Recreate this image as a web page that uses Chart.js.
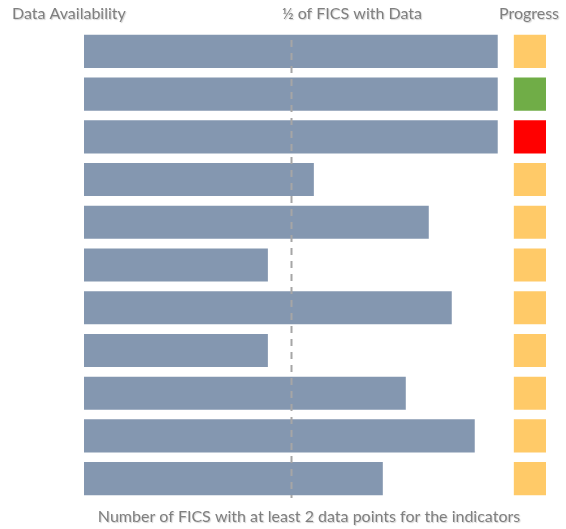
<!DOCTYPE html>
<html>
<head>
<meta charset="utf-8">
<script src="https://cdn.jsdelivr.net/npm/chart.js@4"></script>
<style>
  html, body { margin: 0; padding: 0; background: #fff; }
  #wrap { width: 566px; height: 529px; position: relative; }
</style>
</head>
<body>
<div id="wrap"><canvas id="chart"></canvas></div>
<script>
// Indicators (unlabelled in the source picture), top to bottom
const indicators = ["1", "2", "3", "4", "5", "6", "7", "8", "9", "10", "11"];
// Number of FICS with at least 2 data points
const ficsWithData = [18, 18, 18, 10, 15, 8, 16, 8, 14, 17, 13];
const totalFics = 18;
const halfFics = totalFics / 2;
// Progress rating per indicator
const progress = ["amber", "green", "red", "amber", "amber", "amber", "amber", "amber", "amber", "amber", "amber"];
// Progress marker span on the value axis (sits right of the bars)
const progressSpan = [18.7, 20.1];

const titleLeft = "Data Availability";
const titleMid = "½ of FICS with Data";
const titleRight = "Progress";
const axisLabel = "Number of FICS with at least 2 data points for the indicators";

const PROGRESS_COLORS = { amber: "#ffca68", green: "#70ad47", red: "#ff0000" };
const TEXT = "#7f7f7f";
const FONT = "16px Lato, 'Liberation Sans', sans-serif";

const overlay = {
  id: "overlay",
  afterDatasetsDraw(chart) {
    const { ctx, chartArea, scales } = chart;
    const x = Math.round(scales.x.getPixelForValue(halfFics)) + 0.5;

    ctx.save();
    ctx.strokeStyle = "#a6a6a6";
    ctx.lineWidth = 2;
    ctx.setLineDash([7, 6]);
    ctx.beginPath();
    ctx.moveTo(x, chartArea.top + 10);
    ctx.lineTo(x, chartArea.bottom - 2);
    ctx.stroke();
    ctx.restore();

    ctx.save();
    ctx.font = FONT;
    ctx.fillStyle = TEXT;
    ctx.textBaseline = "middle";
    ctx.shadowColor = "rgba(0,0,0,0.18)";
    ctx.shadowOffsetX = 1;
    ctx.shadowOffsetY = 1;
    ctx.shadowBlur = 1;

    ctx.textAlign = "left";
    ctx.fillText(titleLeft, 12, 14);
    ctx.textAlign = "center";
    ctx.fillText(titleMid, 352, 14);
    ctx.fillText(titleRight, 529, 14);
    ctx.fillText(axisLabel, 309, 517);
    ctx.restore();
  },
};

new Chart(document.getElementById("chart"), {
  type: "bar",
  data: {
    labels: indicators,
    datasets: [
      {
        label: "FICS with data",
        data: ficsWithData,
        backgroundColor: "#8497b0",
        categoryPercentage: 1,
        barPercentage: 0.775,
        grouped: false,
      },
      {
        label: "Progress",
        data: progress.map(() => progressSpan),
        backgroundColor: progress.map((p) => PROGRESS_COLORS[p]),
        categoryPercentage: 1,
        barPercentage: 0.775,
        grouped: false,
      },
    ],
  },
  options: {
    indexAxis: "y",
    responsive: true,
    maintainAspectRatio: false,
    animation: false,
    layout: { padding: { left: 84, right: 20, top: 30, bottom: 29 } },
    plugins: {
      legend: { display: false },
      tooltip: { enabled: false },
    },
    scales: {
      x: { display: false, min: 0, max: progressSpan[1] },
      y: { display: false },
    },
  },
  plugins: [overlay],
});
</script>
</body>
</html>
